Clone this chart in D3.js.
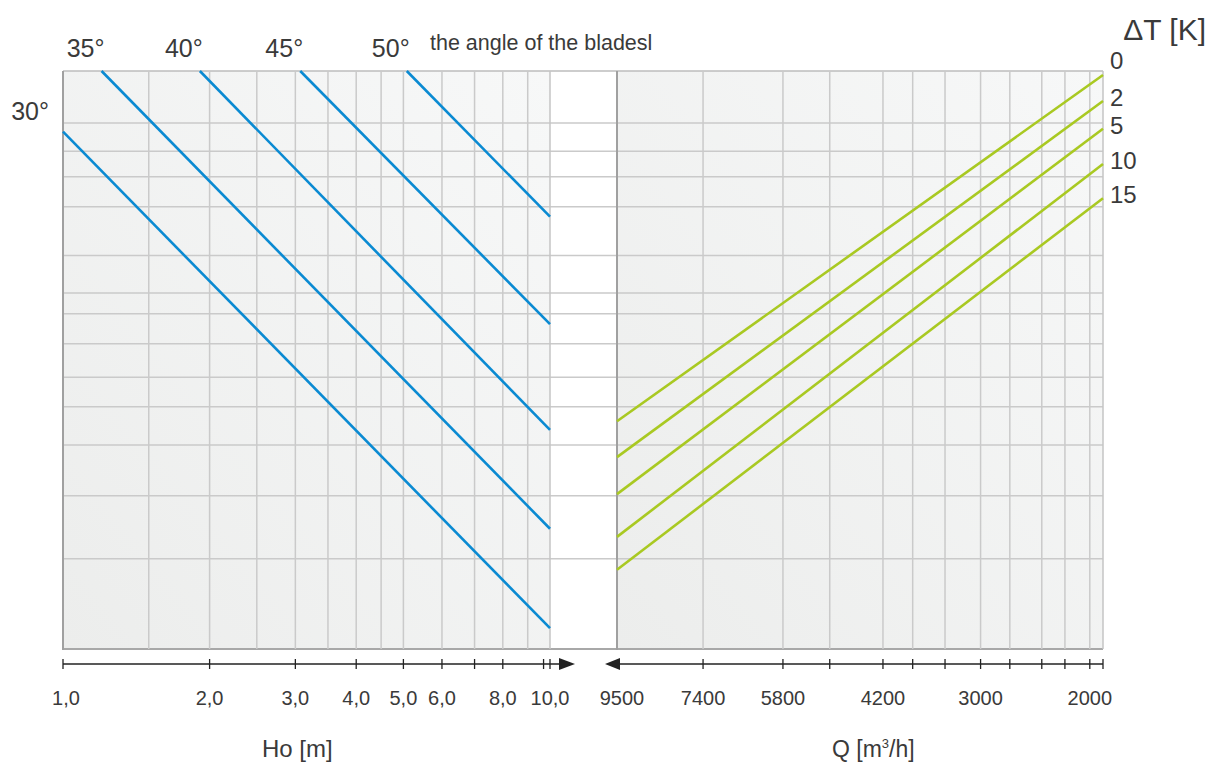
<!DOCTYPE html>
<html><head><meta charset="utf-8">
<script src="https://cdn.jsdelivr.net/npm/d3@7/dist/d3.min.js"></script>
<style>
html,body{margin:0;padding:0;background:#fff;}
svg text{font-family:"Liberation Sans",Arial,sans-serif;fill:#3a3a3a;}
</style></head>
<body><svg id="c" width="1209" height="762"></svg>
<script>
// ---------- data ----------
const hTicks = [1, 2, 3, 4, 5, 6, 7, 8, 9.7, 10];
const hTickLabels = ["1,0", "2,0", "3,0", "4,0", "5,0", "6,0", "", "8,0", "", "10,0"];
const hGrid = [1.5, 2, 2.5, 3, 3.5, 4, 4.5, 5, 6, 7, 8, 9];
const qTicks = [9500, 7400, 5800, 5000, 4200, 3800, 3400, 3000, 2700, 2400, 2200, 2000, 1900];
const qTickLabels = ["9500", "7400", "5800", "", "4200", "", "", "3000", "", "", "", "2000", ""];
const yGrid = [100, 91, 86.1, 81.7, 76.5, 68.1, 61.6, 58, 52.8, 47, 41.9, 35.3, 26.5, 15.6, 0];

const angleLabels = ["30°", "35°", "40°", "45°", "50°"];
const angleStartH = [1, 1.2, 1.91, 3.07, 5.08];
const angleStartV = [89.5, 100, 100, 100, 100];
const angleEndH = [10, 10, 10, 10, 10];
const angleEndV = [3.6, 20.8, 37.9, 56.2, 74.8];

const dTLabels = ["0", "2", "5", "10", "15"];
const dTStartQ = [9500, 9500, 9500, 9500, 9500];
const dTStartV = [39.4, 33.2, 26.8, 19.4, 13.7];
const dTEndQ = [1900, 1900, 1900, 1900, 1900];
const dTEndV = [99.3, 94.8, 90.0, 83.9, 78.0];

// ---------- layout ----------
const svg = d3.select("#c");
const yTop = 71, yBot = 649;
const L = {x0: 63, x1: 550};
const R = {x0: 617, x1: 1103};

const x1 = d3.scaleLog().domain([1, 10]).range([L.x0, L.x1]);
const x2 = d3.scalePow().exponent(0.2).domain([9500, 1900]).range([R.x0, R.x1]);
const y = d3.scaleLinear().domain([0, 100]).range([yBot, yTop]);

const defs = svg.append("defs");
const g = defs.append("linearGradient").attr("id", "bg")
  .attr("x1", "1").attr("y1", "0").attr("x2", "0").attr("y2", "1");
g.append("stop").attr("offset", "0").attr("stop-color", "#f7f8f8");
g.append("stop").attr("offset", "1").attr("stop-color", "#ecedec");

// panel backgrounds
[L, R].forEach(p => {
  svg.append("rect").attr("x", p.x0).attr("y", yTop)
    .attr("width", p.x1 - p.x0).attr("height", yBot - yTop)
    .attr("fill", "url(#bg)");
});

const gridColor = "#cacaca";
// horizontal grid across both panels (and gap)
svg.append("g").selectAll("line").data(yGrid).join("line")
  .attr("x1", L.x0).attr("x2", R.x1)
  .attr("y1", d => y(d)).attr("y2", d => y(d))
  .attr("stroke", d => d === 0 ? "#a8a8a8" : (d === 100 ? "#bdbdbd" : gridColor))
  .attr("stroke-width", d => d === 0 ? 2 : 1.5);

// vertical grid left
svg.append("g").selectAll("line").data(hGrid).join("line")
  .attr("x1", d => x1(d)).attr("x2", d => x1(d))
  .attr("y1", yTop).attr("y2", yBot)
  .attr("stroke", gridColor).attr("stroke-width", 1.5);
// vertical grid right
svg.append("g").selectAll("line").data(qTicks.slice(1, -1)).join("line")
  .attr("x1", d => x2(d)).attr("x2", d => x2(d))
  .attr("y1", yTop).attr("y2", yBot)
  .attr("stroke", gridColor).attr("stroke-width", 1.5);

// panel borders
svg.append("line").attr("x1", L.x0).attr("x2", L.x0).attr("y1", yTop).attr("y2", yBot + 1)
  .attr("stroke", "#a0a0a0").attr("stroke-width", 2);
svg.append("line").attr("x1", L.x1).attr("x2", L.x1).attr("y1", yTop).attr("y2", yBot)
  .attr("stroke", "#c4c4c4").attr("stroke-width", 1.5);
svg.append("line").attr("x1", R.x0).attr("x2", R.x0).attr("y1", yTop).attr("y2", yBot + 1)
  .attr("stroke", "#a0a0a0").attr("stroke-width", 2);
svg.append("line").attr("x1", R.x1).attr("x2", R.x1).attr("y1", yTop).attr("y2", yBot)
  .attr("stroke", "#c4c4c4").attr("stroke-width", 1.5);

// blue blade-angle lines
const lineL = d3.line().x(d => x1(d[0])).y(d => y(d[1]));
angleLabels.forEach((lab, i) => {
  const pts = [[angleStartH[i], angleStartV[i]], [angleEndH[i], angleEndV[i]]];
  svg.append("path").attr("d", lineL(pts)).attr("fill", "none")
    .attr("stroke", "#0a8ad2").attr("stroke-width", 2.6);
  if (i === 0) {
    svg.append("text").attr("x", x1(angleStartH[i]) - 14).attr("y", y(angleStartV[i]) - 12)
      .attr("text-anchor", "end").attr("font-size", 25).text(lab);
  } else {
    svg.append("text").attr("x", x1(angleStartH[i]) - 16).attr("y", yTop - 14)
      .attr("text-anchor", "middle").attr("font-size", 25).text(lab);
  }
});
svg.append("text").attr("x", 430).attr("y", 50).attr("font-size", 21.5).text("the angle of the bladesl");

// green ΔT lines
const lineR = d3.line().x(d => x2(d[0])).y(d => y(d[1]));
dTLabels.forEach((lab, i) => {
  const pts = [[dTStartQ[i], dTStartV[i]], [dTEndQ[i], dTEndV[i]]];
  svg.append("path").attr("d", lineR(pts)).attr("fill", "none")
    .attr("stroke", "#a9c922").attr("stroke-width", 2.6);
  const yy = y(dTEndV[i]) + (i === 0 ? -6 : 5);
  svg.append("text").attr("x", R.x1 + 7).attr("y", yy).attr("font-size", 24).text(lab);
});
svg.append("text").attr("x", 1206).attr("y", 40).attr("text-anchor", "end")
  .attr("font-size", 30).text("ΔT [K]");

// bottom axes
const axY = 664;
svg.append("line").attr("x1", L.x0).attr("x2", 560).attr("y1", axY).attr("y2", axY)
  .attr("stroke", "#222").attr("stroke-width", 1.3);
svg.append("path").attr("d", `M559,${axY - 6}L575,${axY}L559,${axY + 6}Z`).attr("fill", "#222");
svg.append("g").selectAll("line").data(hTicks).join("line")
  .attr("x1", d => x1(d)).attr("x2", d => x1(d)).attr("y1", axY - 5).attr("y2", axY + 5)
  .attr("stroke", "#222").attr("stroke-width", 1.3);
svg.append("g").selectAll("text").data(hTicks).join("text")
  .attr("x", (d, i) => x1(d) + (i === 0 ? 3 : 0)).attr("y", 705)
  .attr("text-anchor", "middle").attr("font-size", 20)
  .text((d, i) => hTickLabels[i]);

svg.append("line").attr("x1", 618).attr("x2", R.x1).attr("y1", axY).attr("y2", axY)
  .attr("stroke", "#222").attr("stroke-width", 1.3);
svg.append("path").attr("d", `M620,${axY - 6}L605,${axY}L620,${axY + 6}Z`).attr("fill", "#222");
svg.append("g").selectAll("line").data(qTicks.slice(1)).join("line")
  .attr("x1", d => x2(d)).attr("x2", d => x2(d)).attr("y1", axY - 5).attr("y2", axY + 5)
  .attr("stroke", "#222").attr("stroke-width", 1.3);
svg.append("g").selectAll("text").data(qTicks).join("text")
  .attr("x", (d, i) => x2(d) + (i === 0 ? 5 : 0)).attr("y", 705)
  .attr("text-anchor", "middle").attr("font-size", 20)
  .text((d, i) => qTickLabels[i]);

// axis titles
svg.append("text").attr("x", 262).attr("y", 757).attr("font-size", 24).text("Ho  [m]");
const qt = svg.append("text").attr("x", 832).attr("y", 757).attr("font-size", 23);
qt.append("tspan").text("Q [m");
qt.append("tspan").attr("font-size", 13).attr("dy", -9).text("3");
qt.append("tspan").attr("dy", 9).text("/h]");
</script></body></html>
